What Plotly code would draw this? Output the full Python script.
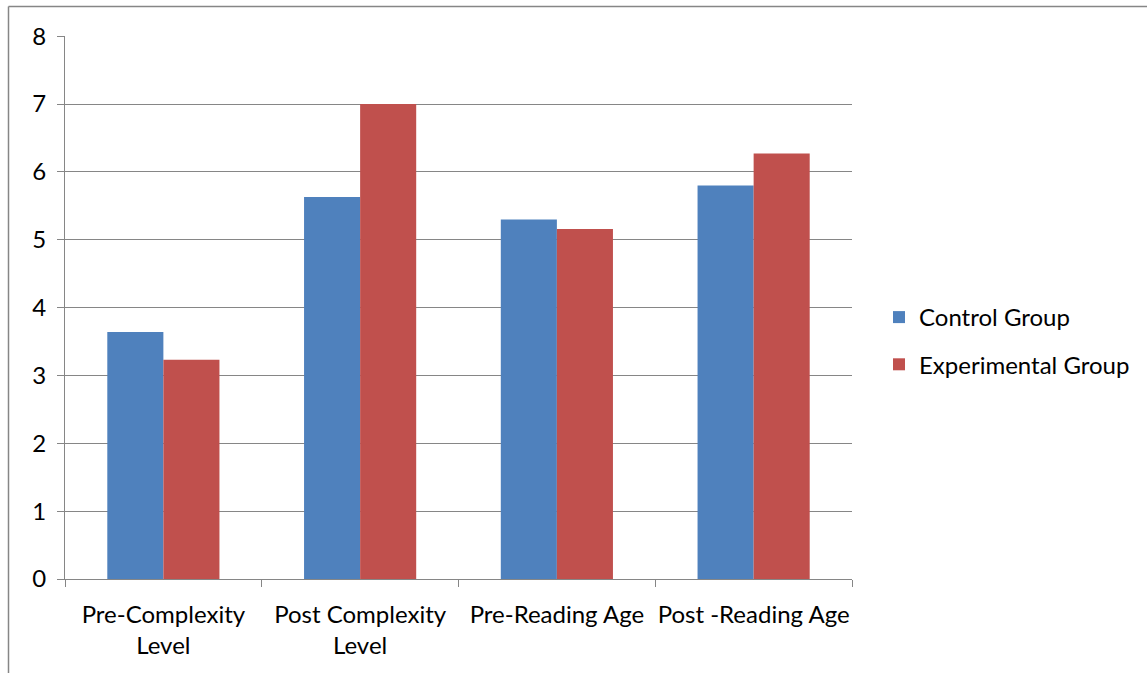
import plotly.graph_objects as go

categories = ["Pre-Complexity<br>Level", "Post Complexity<br>Level", "Pre-Reading Age", "Post -Reading Age"]
control = [3.64, 5.63, 5.30, 5.80]
experimental = [3.23, 7.0, 5.16, 6.27]
y_ticks = [0, 1, 2, 3, 4, 5, 6, 7, 8]

FONT = "Lato"
FS = 24
fig = go.Figure()
fig.add_trace(go.Bar(x=categories, y=control, name="Control Group",
                     marker=dict(color="#4F81BD", line=dict(width=0)), legendgroup="a"))
fig.add_trace(go.Bar(x=categories, y=experimental, name="Experimental Group",
                     marker=dict(color="#C0504D", line=dict(width=0)), legendgroup="b"))

W, H = 1147, 673
L, R, T, B = 65, 852, 36, 579
pw, ph = R - L, B - T

def px(x):
    return (x - L) / pw

def py(y):
    return (B - y) / ph

fig.update_layout(
    width=W, height=H,
    margin=dict(l=L, r=W - R, t=T, b=H - B, autoexpand=False),
    paper_bgcolor="white", plot_bgcolor="white",
    barmode="group", bargap=0.43, bargroupgap=0,
    font=dict(family=FONT, size=FS, color="black"),
    showlegend=True,
    legend=dict(x=px(879), y=py(295), xanchor="left", yanchor="top",
                traceorder="grouped", tracegroupgap=13,
                font=dict(family=FONT, size=FS, color="black"),
                itemwidth=30, bgcolor="rgba(0,0,0,0)"),
    xaxis=dict(type="category", showline=True, linecolor="#868686", linewidth=1,
               ticks="outside", tickson="boundaries", ticklen=7, tickcolor="#868686",
               showgrid=False, tickangle=0, tickfont=dict(family=FONT, size=FS, color="black"),
               ticklabelstandoff=14),
    yaxis=dict(range=[0, 8.003], tickvals=y_ticks, showline=True, linecolor="#868686", linewidth=1,
               ticks="outside", ticklen=7, tickcolor="#868686",
               showgrid=True, gridcolor="#868686", gridwidth=1, zeroline=False,
               tickfont=dict(family=FONT, size=FS, color="black"), ticklabelstandoff=6),
    shapes=[
        dict(type="line", xref="paper", yref="paper", x0=px(8.5), x1=px(1200),
             y0=py(6.5), y1=py(6.5), line=dict(color="#868686", width=1.5)),
        dict(type="line", xref="paper", yref="paper", x0=px(8.5), x1=px(8.5),
             y0=py(6.5), y1=py(720), line=dict(color="#868686", width=1.5)),
    ],
)

fig.write_html("out.html", config={"displayModeBar": False},
               post_script="document.body.style.margin='0';document.body.style.padding='0';")
